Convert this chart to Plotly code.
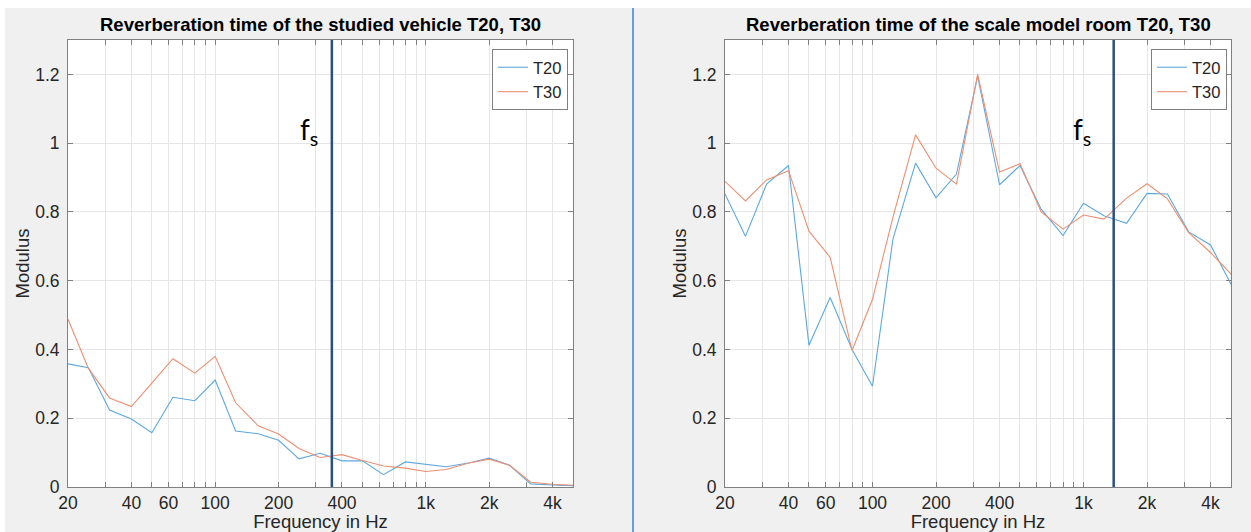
import math
import plotly.graph_objects as go
from plotly.subplots import make_subplots

# ---------------- data ----------------
freqs = [20, 25, 31.5, 40, 50, 63, 80, 100, 125, 160, 200, 250, 315, 400, 500,
         630, 800, 1000, 1250, 1600, 2000, 2500, 3150, 4000, 5000]

vehicle_t20 = [0.358, 0.347, 0.224, 0.198, 0.158, 0.261, 0.251, 0.311, 0.163, 0.155,
               0.136, 0.082, 0.098, 0.076, 0.076, 0.036, 0.073, 0.065, 0.059, 0.070,
               0.084, 0.063, 0.009, 0.006, 0.004]
vehicle_t30 = [0.488, 0.345, 0.259, 0.234, 0.302, 0.373, 0.331, 0.380, 0.245, 0.178,
               0.154, 0.112, 0.086, 0.094, 0.077, 0.061, 0.055, 0.045, 0.051, 0.070,
               0.081, 0.063, 0.014, 0.008, 0.005]

room_t20 = [0.852, 0.729, 0.881, 0.935, 0.412, 0.551, 0.400, 0.293, 0.721, 0.942,
            0.841, 0.910, 1.195, 0.879, 0.935, 0.808, 0.731, 0.825, 0.789, 0.767,
            0.854, 0.852, 0.742, 0.704, 0.590]
room_t30 = [0.889, 0.832, 0.893, 0.920, 0.744, 0.668, 0.397, 0.546, 0.785, 1.024,
            0.927, 0.881, 1.200, 0.916, 0.940, 0.800, 0.750, 0.791, 0.779, 0.840,
            0.882, 0.838, 0.740, 0.682, 0.619]

fs_vehicle = 358
fs_room = 1390

titles = ["Reverberation time of the studied vehicle T20, T30",
          "Reverberation time of the scale model room T20, T30"]
series_names = ["T20", "T30"]

grid_vals = [20, 30, 40, 50, 60, 70, 80, 90,
             100, 200, 300, 400, 500, 600, 700, 800, 900,
             1000, 2000, 3000, 4000, 5000]
tick_labels = {20: "20", 40: "40", 60: "60", 100: "100", 200: "200", 400: "400",
               1000: "1k", 2000: "2k", 4000: "4k"}
y_ticks = [0, 0.2, 0.4, 0.6, 0.8, 1, 1.2]

# ---------------- style ----------------
W, H = 1251, 532
C_T20 = "#5FA8DE"
C_T30 = "#EC9072"
C_FS = "#2B4E82"
AX = "#808080"
GRID = "#e6e6e6"
TXT = "#262626"
FONT = "Liberation Sans, Arial, Helvetica, sans-serif"
FS_TICK = 17.5
FS_LABEL = 18.5
FS_LEG = 16.5
FS_TITLE = 18.5

def px_x(p):
    return p / W

def px_y(p):
    return 1 - p / H

fig = make_subplots(rows=1, cols=2)

dom_y = [px_y(487), px_y(40)]
doms_x = [[px_x(68), px_x(573)], [px_x(725), px_x(1231)]]

datasets = [(vehicle_t20, vehicle_t30, fs_vehicle), (room_t20, room_t30, fs_room)]
legends = ["legend", "legend2"]

for i, (t20, t30, fs) in enumerate(datasets):
    col = i + 1
    fig.add_trace(go.Scatter(x=freqs, y=t20, mode="lines", name=series_names[0],
                             line=dict(color=C_T20, width=1.1), legend=legends[i]),
                  row=1, col=col)
    fig.add_trace(go.Scatter(x=freqs, y=t30, mode="lines", name=series_names[1],
                             line=dict(color=C_T30, width=1.1), legend=legends[i]),
                  row=1, col=col)
    xref = "x" if i == 0 else "x2"
    yref = "y domain" if i == 0 else "y2 domain"
    fig.add_shape(type="line", xref=xref, yref=yref, x0=fs, x1=fs, y0=0, y1=1,
                  line=dict(color=C_FS, width=2.5))
    fig.add_annotation(x=math.log10(fs), y=1.035, xref=xref, yref="y" if i == 0 else "y2",
                       text="f<sub>s</sub>", showarrow=False, xanchor="right",
                       yanchor="middle", xshift=-12 if i == 0 else -21,
                       font=dict(family="Lato, Noto Sans, sans-serif", size=28, color="#000"))
    # title
    fig.add_annotation(x=(doms_x[i][0] + doms_x[i][1]) / 2, y=px_y(25), xref="paper",
                       yref="paper", text="<b>" + titles[i] + "</b>", showarrow=False,
                       xanchor="center", yanchor="middle",
                       font=dict(family=FONT, size=FS_TITLE, color="#000"))

xaxis_common = dict(
    type="log", range=[math.log10(20), math.log10(5000)],
    tickvals=grid_vals, ticktext=[tick_labels.get(v, "") for v in grid_vals],
    showgrid=True, gridcolor=GRID, gridwidth=1,
    showline=True, linecolor=AX, linewidth=1, mirror="ticks",
    ticks="inside", ticklen=5, tickcolor=AX,
    tickfont=dict(family=FONT, size=FS_TICK, color=TXT),
    title=dict(text="Frequency in Hz", font=dict(family=FONT, size=FS_LABEL, color=TXT), standoff=3),
    zeroline=False, automargin=False,
)
yaxis_common = dict(
    range=[0, 1.3], tickvals=y_ticks,
    showgrid=True, gridcolor=GRID, gridwidth=1,
    showline=True, linecolor=AX, linewidth=1, mirror="ticks",
    ticks="inside", ticklen=5, tickcolor=AX, ticklabelstandoff=4,
    tickfont=dict(family=FONT, size=FS_TICK, color=TXT),
    title=dict(text="Modulus", font=dict(family=FONT, size=FS_LABEL, color=TXT), standoff=0),
    zeroline=False, automargin=False,
)

fig.update_layout(
    xaxis=dict(domain=doms_x[0], **xaxis_common),
    xaxis2=dict(domain=doms_x[1], **xaxis_common),
    yaxis=dict(domain=dom_y, **yaxis_common),
    yaxis2=dict(domain=dom_y, **yaxis_common),
)

legend_common = dict(
    bgcolor="white", bordercolor=AX, borderwidth=1,
    font=dict(family=FONT, size=FS_LEG, color=TXT),
    xanchor="right", yanchor="top", itemwidth=30, tracegroupgap=0,
)
fig.update_layout(
    legend=dict(x=px_x(568), y=px_y(49), **legend_common),
    legend2=dict(x=px_x(1227), y=px_y(49), **legend_common),
)

# background: gray figure with white strips at top and left edge
fig.add_shape(type="rect", xref="paper", yref="paper", x0=0, x1=1, y0=px_y(8), y1=1,
              fillcolor="white", line=dict(width=0), layer="below")
fig.add_shape(type="rect", xref="paper", yref="paper", x0=0, x1=px_x(5), y0=0, y1=1,
              fillcolor="white", line=dict(width=0), layer="below")
fig.add_shape(type="line", xref="paper", yref="paper", x0=px_x(633), x1=px_x(633),
              y0=0, y1=px_y(8), line=dict(color="#6f9bd8", width=2), layer="below")

fig.update_layout(
    width=W, height=H, margin=dict(l=0, r=0, t=0, b=0),
    paper_bgcolor="#f0f0f0", plot_bgcolor="white",
    showlegend=True,
)

fig.write_html("out.html", config={"displayModeBar": False},
               post_script="document.body.style.margin='0px';document.body.style.overflow='hidden';")
